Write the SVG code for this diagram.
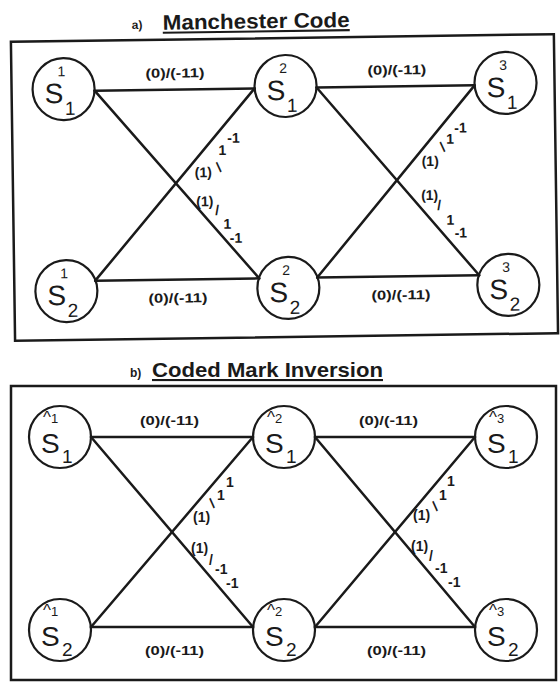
<svg xmlns="http://www.w3.org/2000/svg" width="560" height="685" viewBox="0 0 560 685">
<style>
.frame{fill:none;stroke:#1a1a1a;stroke-width:2.5}
.edge{stroke:#1a1a1a;stroke-width:2.5;fill:none;stroke-linecap:round}
.node circle{fill:none;stroke:#1a1a1a;stroke-width:2.2}
text{font-family:"Liberation Sans",Arial,Helvetica,sans-serif;fill:#1a1a1a}
.S{font-size:28px}
.sup{font-size:14px}
.sub{font-size:19px}
.hat{font-size:17px}
.hat tspan{font-size:13px}
.lbl{font-size:13px;font-weight:bold}
.dl{font-size:14px;font-weight:bold}
.title{font-size:21px;font-weight:bold;text-decoration:underline}
.tag{font-size:12px;font-weight:bold}
</style>

<!-- Panel a -->
<g id="panel-a" transform="rotate(-0.8 285 190)">
  <text class="tag" x="134" y="27">a)</text>
  <text class="title" x="165" y="28" textLength="187" lengthAdjust="spacingAndGlyphs">Manchester Code</text>
  <rect class="frame" x="13" y="38" width="543" height="299"/>

  <g id="a-connectors">
    <line class="edge" x1="96" y1="88" x2="256" y2="88"/>
    <line class="edge" x1="318" y1="88" x2="476" y2="88"/>
    <line class="edge" x1="94" y1="278" x2="258" y2="278"/>
    <line class="edge" x1="316" y1="278" x2="478" y2="278"/>
    <line class="edge" x1="96" y1="88" x2="258" y2="278"/>
    <line class="edge" x1="94" y1="278" x2="256" y2="88"/>
    <line class="edge" x1="318" y1="88" x2="478" y2="278"/>
    <line class="edge" x1="316" y1="278" x2="476" y2="88"/>
    <text class="lbl" x="147" y="76" textLength="59" lengthAdjust="spacingAndGlyphs">(0)/(-11)</text>
    <text class="lbl" x="369" y="76" textLength="59" lengthAdjust="spacingAndGlyphs">(0)/(-11)</text>
    <text class="lbl" x="147" y="301" textLength="59" lengthAdjust="spacingAndGlyphs">(0)/(-11)</text>
    <text class="lbl" x="370" y="301" textLength="59" lengthAdjust="spacingAndGlyphs">(0)/(-11)</text>
    <text class="dl" x="195" y="176">(1)</text>
    <text class="dl" transform="rotate(-35 219 166)" x="217" y="171">/</text>
    <text class="dl" x="219" y="154">1</text>
    <text class="dl" x="228" y="142">-1</text>
    <text class="dl" x="196" y="205">(1)</text>
    <text class="dl" x="215" y="214">/</text>
    <text class="dl" x="223" y="228">1</text>
    <text class="dl" x="229" y="242">-1</text>
    <text class="dl" x="422" y="168">(1)</text>
    <text class="dl" transform="rotate(-35 443 149)" x="441" y="154">/</text>
    <text class="dl" x="447" y="146">1</text>
    <text class="dl" x="455" y="135">-1</text>
    <text class="dl" x="421" y="202">(1)</text>
    <text class="dl" x="437" y="212">/</text>
    <text class="dl" x="446" y="227">1</text>
    <text class="dl" x="454" y="240">-1</text>
  </g>

  <g id="a-S1-1" class="node"><circle cx="65" cy="86" r="31"/><text class="S" x="46" y="100">S</text><text class="sup" x="59" y="73">1</text><text class="sub" x="66" y="112">1</text></g>
  <g id="a-S1-2" class="node"><circle cx="287" cy="86" r="31"/><text class="S" x="268" y="100">S</text><text class="sup" x="281" y="73">2</text><text class="sub" x="288" y="112">1</text></g>
  <g id="a-S1-3" class="node"><circle cx="507" cy="86" r="31"/><text class="S" x="488" y="100">S</text><text class="sup" x="501" y="73">3</text><text class="sub" x="508" y="112">1</text></g>
  <g id="a-S2-1" class="node"><circle cx="65" cy="288" r="31"/><text class="S" x="46" y="302">S</text><text class="sup" x="59" y="275">1</text><text class="sub" x="66" y="314">2</text></g>
  <g id="a-S2-2" class="node"><circle cx="287" cy="288" r="31"/><text class="S" x="268" y="302">S</text><text class="sup" x="281" y="275">2</text><text class="sub" x="288" y="314">2</text></g>
  <g id="a-S2-3" class="node"><circle cx="507" cy="288" r="31"/><text class="S" x="488" y="302">S</text><text class="sup" x="501" y="275">3</text><text class="sub" x="508" y="314">2</text></g>
</g>

<!-- Panel b -->
<g id="panel-b">
  <text class="tag" x="130" y="377">b)</text>
  <text class="title" x="152" y="377" textLength="231" lengthAdjust="spacingAndGlyphs">Coded Mark Inversion</text>
  <rect class="frame" x="11" y="386" width="545" height="294"/>

  <g id="b-connectors">
    <line class="edge" x1="91" y1="437" x2="253" y2="437"/>
    <line class="edge" x1="315" y1="437" x2="475" y2="437"/>
    <line class="edge" x1="91" y1="627" x2="253" y2="627"/>
    <line class="edge" x1="315" y1="627" x2="475" y2="627"/>
    <line class="edge" x1="91" y1="437" x2="253" y2="627"/>
    <line class="edge" x1="91" y1="627" x2="253" y2="437"/>
    <line class="edge" x1="315" y1="437" x2="475" y2="627"/>
    <line class="edge" x1="315" y1="627" x2="475" y2="437"/>
    <text class="lbl" x="140" y="425" textLength="59" lengthAdjust="spacingAndGlyphs">(0)/(-11)</text>
    <text class="lbl" x="359" y="425" textLength="59" lengthAdjust="spacingAndGlyphs">(0)/(-11)</text>
    <text class="lbl" x="145" y="655" textLength="59" lengthAdjust="spacingAndGlyphs">(0)/(-11)</text>
    <text class="lbl" x="367" y="655" textLength="59" lengthAdjust="spacingAndGlyphs">(0)/(-11)</text>
    <text class="dl" x="193" y="522">(1)</text>
    <text class="dl" transform="rotate(-35 212 503)" x="210" y="508">/</text>
    <text class="dl" x="217" y="500">1</text>
    <text class="dl" x="226" y="487">1</text>
    <text class="dl" x="191" y="553">(1)</text>
    <text class="dl" x="209" y="565">/</text>
    <text class="dl" x="215" y="574">-1</text>
    <text class="dl" x="226" y="588">-1</text>
    <text class="dl" x="413" y="520">(1)</text>
    <text class="dl" transform="rotate(-35 435 506)" x="433" y="511">/</text>
    <text class="dl" x="439" y="500">1</text>
    <text class="dl" x="447" y="486">1</text>
    <text class="dl" x="411" y="551">(1)</text>
    <text class="dl" x="429" y="561">/</text>
    <text class="dl" x="435" y="573">-1</text>
    <text class="dl" x="448" y="587">-1</text>
  </g>

  <g id="b-S1-1" class="node"><circle cx="60" cy="437" r="31"/><text class="S" x="41" y="453">S</text><text class="hat" x="43" y="423">^<tspan>1</tspan></text><text class="sub" x="62" y="463">1</text></g>
  <g id="b-S1-2" class="node"><circle cx="284" cy="437" r="31"/><text class="S" x="265" y="453">S</text><text class="hat" x="267" y="423">^<tspan>2</tspan></text><text class="sub" x="286" y="463">1</text></g>
  <g id="b-S1-3" class="node"><circle cx="506" cy="437" r="31"/><text class="S" x="487" y="453">S</text><text class="hat" x="489" y="423">^<tspan>3</tspan></text><text class="sub" x="508" y="463">1</text></g>
  <g id="b-S2-1" class="node"><circle cx="60" cy="630" r="31"/><text class="S" x="41" y="646">S</text><text class="hat" x="43" y="616">^<tspan>1</tspan></text><text class="sub" x="62" y="656">2</text></g>
  <g id="b-S2-2" class="node"><circle cx="284" cy="630" r="31"/><text class="S" x="265" y="646">S</text><text class="hat" x="267" y="616">^<tspan>2</tspan></text><text class="sub" x="286" y="656">2</text></g>
  <g id="b-S2-3" class="node"><circle cx="506" cy="630" r="31"/><text class="S" x="487" y="646">S</text><text class="hat" x="489" y="616">^<tspan>3</tspan></text><text class="sub" x="508" y="656">2</text></g>
</g>
</svg>
